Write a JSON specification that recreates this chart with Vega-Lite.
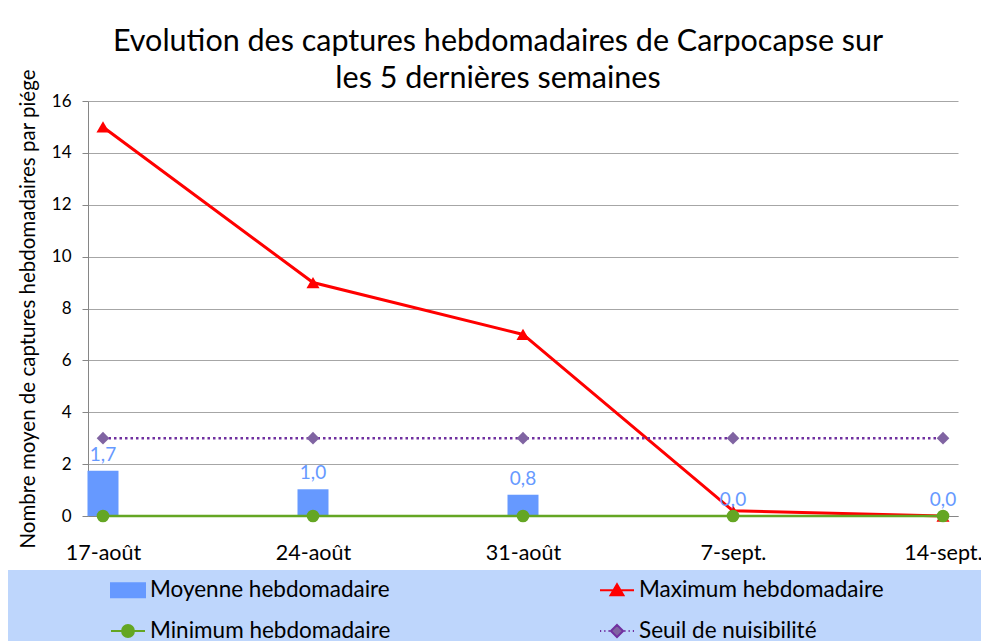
{
  "$schema": "https://vega.github.io/schema/vega-lite/v6.json",
  "autosize": {"type": "none"},
  "width": 870,
  "height": 415,
  "padding": {"left": 88, "top": 101, "right": 23, "bottom": 125},
  "background": "white",
  "config": {
    "view": {"stroke": null},
    "font": "Lato",
    "locale": {"number": {"decimal": ",", "thousands": "\u00a0", "grouping": [3], "currency": ["", " €"]}}
  },
  "title": {
    "text": ["Evolution des captures hebdomadaires de Carpocapse sur", "les 5 dernières semaines"],
    "font": "Lato", "fontSize": 30.5, "fontWeight": "normal", "color": "#000000",
    "lineHeight": 37, "offset": 0, "dx": -25, "dy": 26, "anchor": "middle", "frame": "group"
  },
  "data": {
    "values": [
      {"date": "17-août", "series": "Moyenne hebdomadaire", "value": 1.74},
      {"date": "24-août", "series": "Moyenne hebdomadaire", "value": 1.03},
      {"date": "31-août", "series": "Moyenne hebdomadaire", "value": 0.82},
      {"date": "7-sept.", "series": "Moyenne hebdomadaire", "value": 0},
      {"date": "14-sept.", "series": "Moyenne hebdomadaire", "value": 0},
      {"date": "17-août", "series": "Maximum hebdomadaire", "value": 15},
      {"date": "24-août", "series": "Maximum hebdomadaire", "value": 9},
      {"date": "31-août", "series": "Maximum hebdomadaire", "value": 7},
      {"date": "7-sept.", "series": "Maximum hebdomadaire", "value": 0.2},
      {"date": "14-sept.", "series": "Maximum hebdomadaire", "value": 0},
      {"date": "17-août", "series": "Minimum hebdomadaire", "value": 0},
      {"date": "24-août", "series": "Minimum hebdomadaire", "value": 0},
      {"date": "31-août", "series": "Minimum hebdomadaire", "value": 0},
      {"date": "7-sept.", "series": "Minimum hebdomadaire", "value": 0},
      {"date": "14-sept.", "series": "Minimum hebdomadaire", "value": 0},
      {"date": "17-août", "series": "Seuil de nuisibilité", "value": 3},
      {"date": "24-août", "series": "Seuil de nuisibilité", "value": 3},
      {"date": "31-août", "series": "Seuil de nuisibilité", "value": 3},
      {"date": "7-sept.", "series": "Seuil de nuisibilité", "value": 3},
      {"date": "14-sept.", "series": "Seuil de nuisibilité", "value": 3}
    ]
  },
  "encoding": {
    "x": {
      "field": "date", "type": "ordinal",
      "scale": {"type": "point", "domain": ["17-août", "24-août", "31-août", "7-sept.", "14-sept."], "padding": 0.0714},
      "axis": {
        "title": null, "labelAngle": 0, "ticks": false, "grid": false,
        "domainColor": "#868686", "domainWidth": 1,
        "labelFont": "Lato", "labelFontSize": 21.5, "labelColor": "#000000", "labelPadding": 26
      }
    },
    "y": {
      "field": "value", "type": "quantitative",
      "scale": {"domain": [0, 16], "nice": false, "zero": true},
      "axis": {
        "title": "Nombre moyen de captures hebdomadaires par piége",
        "values": [0, 2, 4, 6, 8, 10, 12, 14, 16],
        "grid": true, "gridColor": "#A6A6A6", "gridWidth": 1,
        "domainColor": "#868686", "tickColor": "#868686", "tickSize": 6,
        "labelFont": "Lato", "labelFontSize": 17, "labelColor": "#000000", "labelPadding": 11,
        "titleFont": "Lato", "titleFontSize": 20.5, "titleFontWeight": "normal", "titleColor": "#000000", "titlePadding": 13
      }
    }
  },
  "layer": [
    {
      "transform": [{"filter": "datum.series == 'Moyenne hebdomadaire'"}],
      "mark": {"type": "bar", "width": 31, "color": "#6699FF"}
    },
    {
      "transform": [{"filter": "datum.series == 'Maximum hebdomadaire'"}],
      "mark": {"type": "line", "color": "#FF0000", "strokeWidth": 3}
    },
    {
      "transform": [{"filter": "datum.series == 'Maximum hebdomadaire'"}],
      "mark": {"type": "point", "shape": "triangle-up", "filled": true, "color": "#FF0000", "size": 170, "opacity": 1}
    },
    {
      "transform": [{"filter": "datum.series == 'Minimum hebdomadaire'"}],
      "mark": {"type": "line", "color": "#64A623", "strokeWidth": 2.5}
    },
    {
      "transform": [{"filter": "datum.series == 'Minimum hebdomadaire'"}],
      "mark": {"type": "point", "shape": "circle", "filled": true, "color": "#64A623", "size": 160, "opacity": 1}
    },
    {
      "transform": [{"filter": "datum.series == 'Seuil de nuisibilité'"}],
      "mark": {"type": "line", "color": "#7030A0", "strokeWidth": 2.5, "strokeDash": [2.5, 3]}
    },
    {
      "transform": [{"filter": "datum.series == 'Seuil de nuisibilité'"}],
      "mark": {"type": "point", "shape": "diamond", "filled": true, "color": "#8064A2", "size": 160, "opacity": 1}
    },
    {
      "transform": [{"filter": "datum.series == 'Moyenne hebdomadaire'"}],
      "mark": {"type": "text", "color": "#6699FF", "font": "Lato", "fontSize": 19, "baseline": "middle", "dy": -16},
      "encoding": {"text": {"field": "value", "type": "quantitative", "format": ".1f"}}
    },
    {
      "transform": [{"filter": "datum.value < -100"}],
      "mark": {"type": "point", "filled": true, "opacity": 1},
      "encoding": {
        "color": {
          "field": "series", "type": "nominal",
          "scale": {
            "domain": ["Moyenne hebdomadaire", "Minimum hebdomadaire", "Maximum hebdomadaire", "Seuil de nuisibilité"],
            "range": ["#6699FF", "#64A623", "#FF0000", "#8064A2"]
          },
          "legend": {
            "orient": "none", "legendX": -80, "legendY": 469,
            "columns": 2, "columnPadding": 205, "rowPadding": 11,
            "fillColor": "#BED6FC", "padding": 2,
            "title": " ", "titleOrient": "left", "titlePadding": 100, "titleFontSize": 1,
            "labelFont": "Lato", "labelFontSize": 22.5, "labelColor": "#000000", "labelLimit": 2000, "labelOffset": 4,
            "symbolSize": 1156, "symbolStrokeWidth": 2, "symbolOpacity": 1,
            "labelExpr": "datum.label == 'Maximum hebdomadaire' ? datum.label + '\u2800\u2800\u2800\u2800\u2800\u2800\u2800' : datum.label"
          }
        },
        "stroke": {
          "field": "series", "type": "nominal",
          "scale": {
            "domain": ["Moyenne hebdomadaire", "Minimum hebdomadaire", "Maximum hebdomadaire", "Seuil de nuisibilité"],
            "range": ["#6699FF", "#64A623", "#FF0000", "#7030A0"]
          },
          "legend": {
            "orient": "none", "legendX": -80, "legendY": 469,
            "columns": 2, "columnPadding": 205, "rowPadding": 11,
            "fillColor": "#BED6FC", "padding": 2,
            "title": " ", "titleOrient": "left", "titlePadding": 100, "titleFontSize": 1,
            "labelFont": "Lato", "labelFontSize": 22.5, "labelColor": "#000000", "labelLimit": 2000, "labelOffset": 4,
            "symbolSize": 1156, "symbolStrokeWidth": 2, "symbolOpacity": 1,
            "labelExpr": "datum.label == 'Maximum hebdomadaire' ? datum.label + '\u2800\u2800\u2800\u2800\u2800\u2800\u2800' : datum.label"
          }
        },
        "shape": {
          "field": "series", "type": "nominal",
          "scale": {
            "domain": ["Moyenne hebdomadaire", "Minimum hebdomadaire", "Maximum hebdomadaire", "Seuil de nuisibilité"],
            "range": [
              "M-1,-0.41H1V0.41H-1Z",
              "M-1,0H-0.35M0.35,0H1M0.35,0A0.35,0.35,0,1,1,-0.35,0A0.35,0.35,0,1,1,0.35,0Z",
              "M-1,0H1M0,-0.36L0.38,0.3L-0.38,0.3Z",
              "M-1,0H-0.93M-0.75,0H-0.68M-0.5,0H-0.43M0.43,0H0.5M0.68,0H0.75M0.93,0H1M0,-0.36L0.36,0L0,0.36L-0.36,0Z"
            ]
          },
          "legend": {
            "orient": "none", "legendX": -80, "legendY": 469,
            "columns": 2, "columnPadding": 205, "rowPadding": 11,
            "fillColor": "#BED6FC", "padding": 2,
            "title": " ", "titleOrient": "left", "titlePadding": 100, "titleFontSize": 1,
            "labelFont": "Lato", "labelFontSize": 22.5, "labelColor": "#000000", "labelLimit": 2000, "labelOffset": 4,
            "symbolSize": 1156, "symbolStrokeWidth": 2, "symbolOpacity": 1,
            "labelExpr": "datum.label == 'Maximum hebdomadaire' ? datum.label + '\u2800\u2800\u2800\u2800\u2800\u2800\u2800' : datum.label"
          }
        }
      }
    }
  ]
}
